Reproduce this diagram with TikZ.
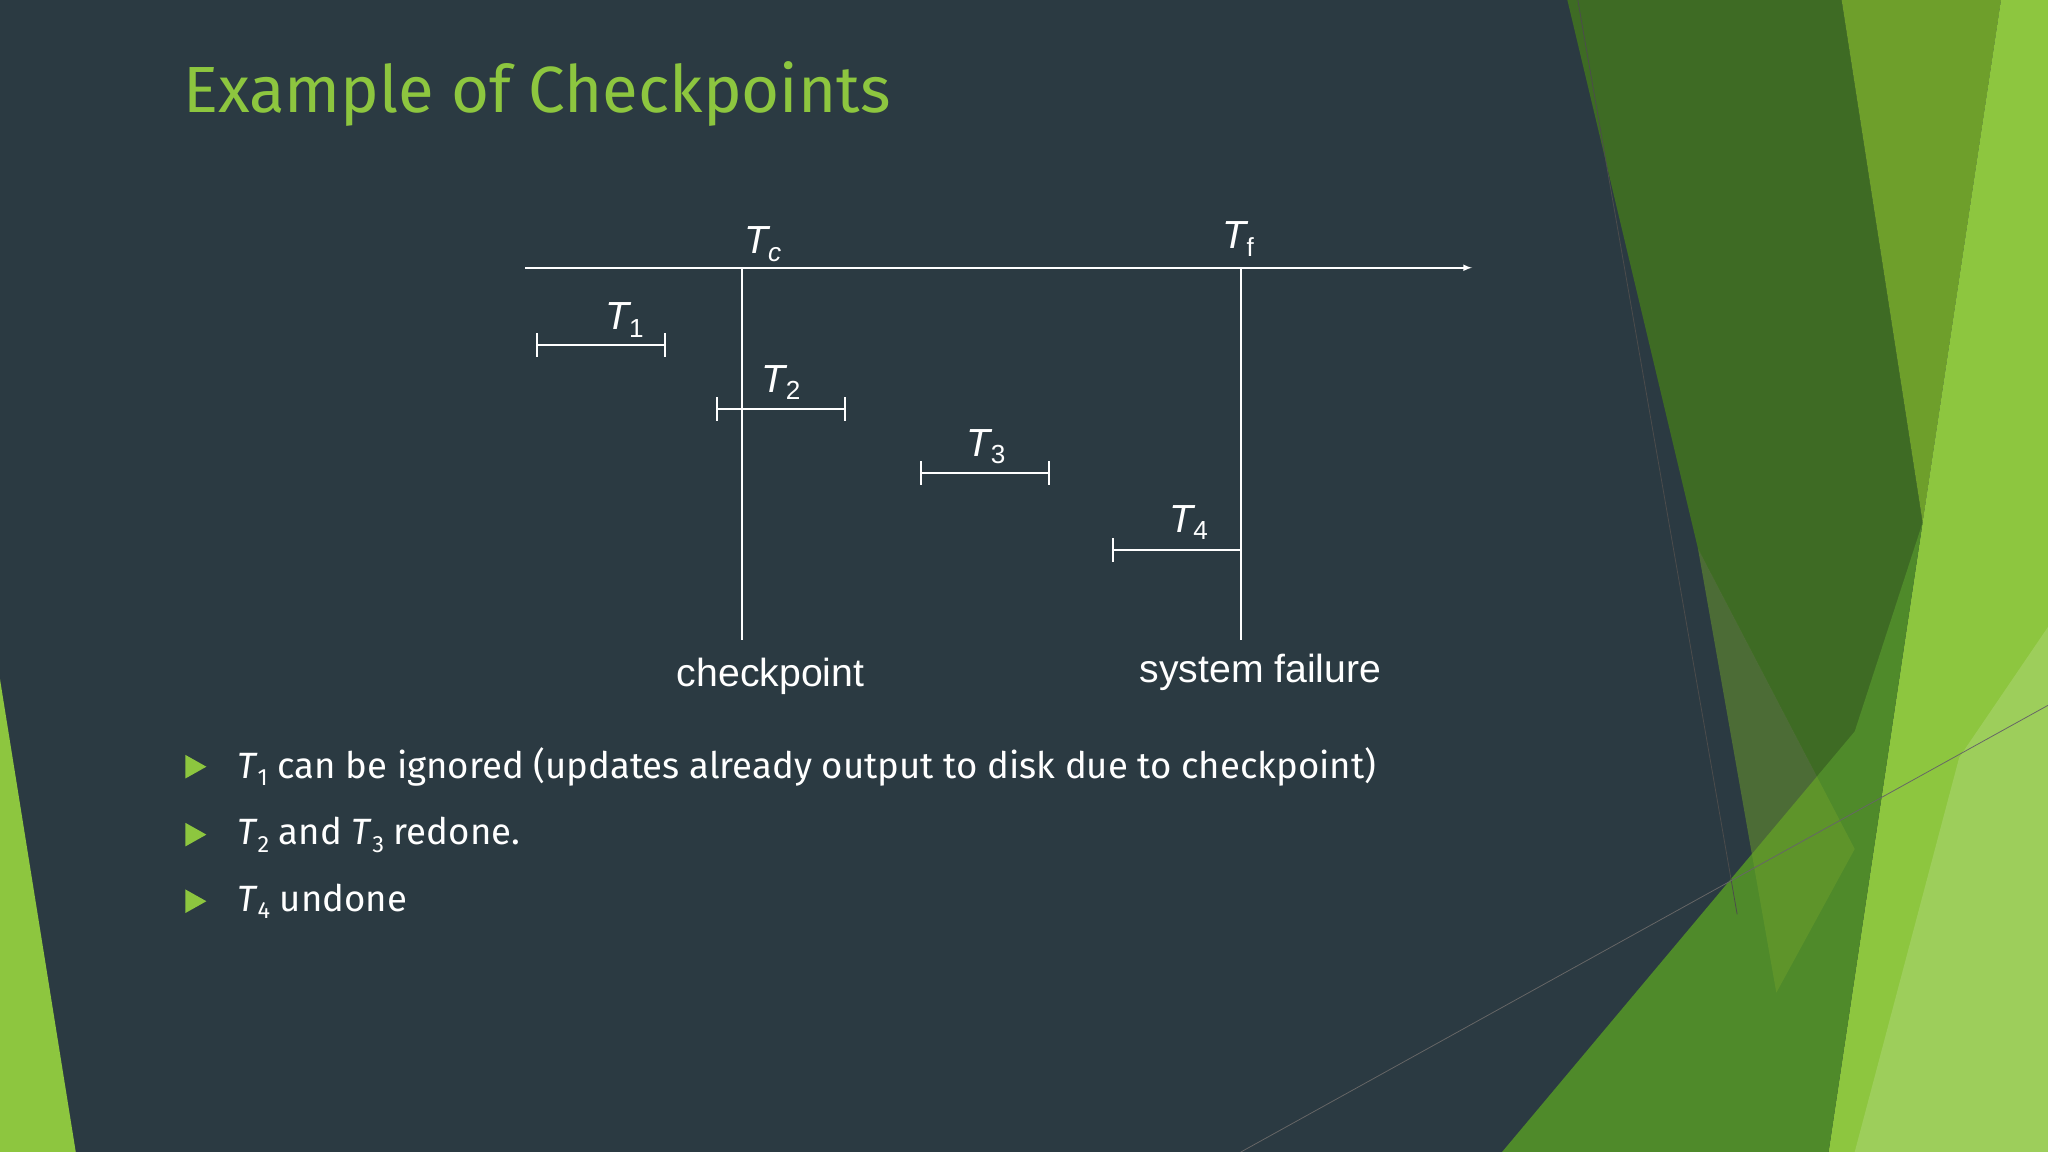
\documentclass[tikz,border=0pt]{standalone}
\usepackage{fontspec}
\setmainfont{Liberation Sans}
\newfontfamily\tfont{Fira Sans}
\begin{document}
\begin{tikzpicture}[x=1pt,y=-1pt,
  ln/.style={white,line width=1.3pt},
  lab/.style={white,font=\fontsize{30}{30}\selectfont\itshape},
  captext/.style={white,font=\fontsize{30}{30}\selectfont},
  bul/.style={anchor=west,white,font=\tfont\fontsize{28}{30}\selectfont}]
\definecolor{bg}{HTML}{2B3A42}
\definecolor{dg}{HTML}{3E6B24}
\definecolor{mg}{HTML}{6E9F2B}
\definecolor{bgr}{HTML}{8DC63F}
\definecolor{lg}{HTML}{4F8A2A}
\definecolor{tg}{HTML}{8DC63F}
\useasboundingbox (0,0) rectangle (1568,882);
\fill[bg] (0,0) rectangle (1568,882);
% decorative shapes
\fill[dg] (1200,0)--(1410,0)--(1472,400)--(1420,650)--(1300,420)--cycle;
\fill[mg] (1410,0)--(1532,0)--(1472,400)--cycle;
\fill[bgr] (1532,0)--(1568,0)--(1568,882)--(1400,882)--(1472,400)--cycle;
\fill[lg] (1150,882)--(1420,560)--(1472,400)--(1400,882)--cycle;
\fill[mg,opacity=0.5] (1300,420)--(1420,650)--(1360,760)--cycle;
\fill[white,opacity=0.15] (1500,580)--(1568,480)--(1568,882)--(1420,882)--cycle;
\fill[tg] (0,520)--(58,882)--(0,882)--cycle;
\draw[black!70,line width=0.6pt] (1208,0)--(1330,700);
\draw[black!60,line width=0.6pt] (950,882)--(1568,540);
% title
\node[anchor=west,text=tg,font=\tfont\fontsize{50}{52}\selectfont] (title) at (137,72) {Example of Checkpoints};
% diagram
\coordinate (a0) at (402,205); \coordinate (a1) at (1127,205);
\draw[ln,-latex] (a0)--(a1);
\coordinate (c0) at (568,205); \coordinate (c1) at (568,490);
\coordinate (f0) at (950,205); \coordinate (f1) at (950,490);
\draw[ln] (c0)--(c1); \draw[ln] (f0)--(f1);
\node[lab] (tc) at (584,187) {T\raisebox{-0.35ex}{\fontsize{20}{20}\selectfont c}};
\node[lab] (tf) at (948,183) {T\raisebox{-0.35ex}{\fontsize{20}{20}\selectfont\upshape f}};
\foreach \n/\x/\y/\lx/\ly in {1/411/264/478/245, 2/549/313/598/293, 3/705/362/755/342, 4/852/421/910/400}{
  \draw[ln] (\x,\y)--(\x+98,\y) (\x,\y-9)--(\x,\y+9) (\x+98,\y-9)--(\x+98,\y+9);
  \node[lab] (t\n) at (\lx,\ly) {T\raisebox{-0.35ex}{\upshape\fontsize{20}{20}\selectfont\n}};
}
\node[captext] (cp) at (590,518) {checkpoint};
\node[captext] (sf) at (965,515) {system failure};
% bullets
\foreach \y in {587,639,690}{\fill[tg] (142,\y-9)--(158,\y)--(142,\y+9)--cycle;}
\node[bul] (b1) at (178,587) {\textit{T}\raisebox{-0.4ex}{\fontsize{18}{18}\selectfont 1} can be ignored (updates already output to disk due to checkpoint)};
\node[bul] (b2) at (178,639) {\textit{T}\raisebox{-0.4ex}{\fontsize{18}{18}\selectfont 2} and \textit{T}\raisebox{-0.4ex}{\fontsize{18}{18}\selectfont 3} redone.};
\node[bul] (b3) at (178,690) {\textit{T}\raisebox{-0.4ex}{\fontsize{18}{18}\selectfont 4} undone};
\end{tikzpicture}
\end{document}
